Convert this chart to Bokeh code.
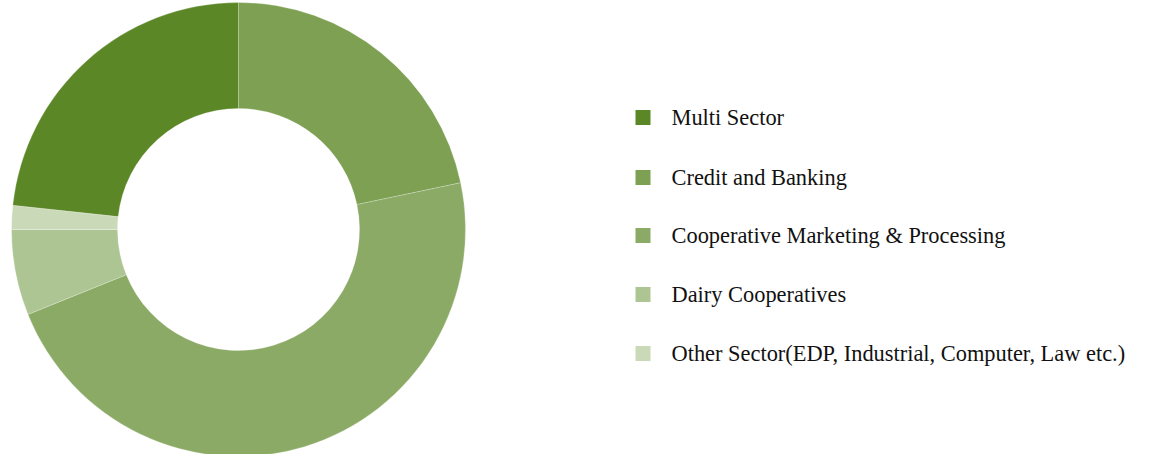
import math
from bokeh.plotting import figure
from bokeh.models import Range1d, ColumnDataSource
from bokeh.core.properties import value
from bokeh.embed import file_html
from bokeh.resources import INLINE

categories = ["Multi Sector", "Credit and Banking", "Cooperative Marketing & Processing",
              "Dairy Cooperatives", "Other Sector(EDP, Industrial, Computer, Law etc.)"]
shares = [23.3, 21.7, 47.2, 6.1, 1.7]
colors = ["#5b8727", "#7da052", "#8baa66", "#adc592", "#cad9b7"]

# drawing order clockwise from 12 o'clock
order = [1, 2, 3, 4, 0]

W, H = 1135, 454
p = figure(width=W, height=H, output_backend="svg", toolbar_location=None,
           x_range=Range1d(0, W), y_range=Range1d(0, H), min_border=0)
p.axis.visible = False
p.grid.visible = False
p.outline_line_color = None

total = sum(shares)
starts, ends, cols = [], [], []
ang = math.pi / 2
for i in order:
    sweep = shares[i] / total * 2 * math.pi
    starts.append(ang - sweep)
    ends.append(ang)
    cols.append(colors[i])
    ang -= sweep

src = ColumnDataSource(dict(x=[238] * len(order), y=[H - 229] * len(order),
                            start=starts, end=ends, color=cols))
p.annular_wedge(x="x", y="y", inner_radius=121, outer_radius=227,
                start_angle="start", end_angle="end", fill_color="color",
                line_color="white", line_width=0.4, line_alpha=0.6, source=src)

row_y = [117, 177, 235, 294, 353]
ys = [H - v for v in row_y]
p.rect(x=[642.5] * len(categories), y=ys, width=15, height=15,
       fill_color=colors, line_color=None)
p.text(x=[671] * len(categories), y=ys, text=categories,
       text_font=value("Liberation Serif"), text_font_size="22.4px",
       text_baseline="middle", text_align="left", text_color="#111111")

open("out.html", "w").write(file_html(p, INLINE))
